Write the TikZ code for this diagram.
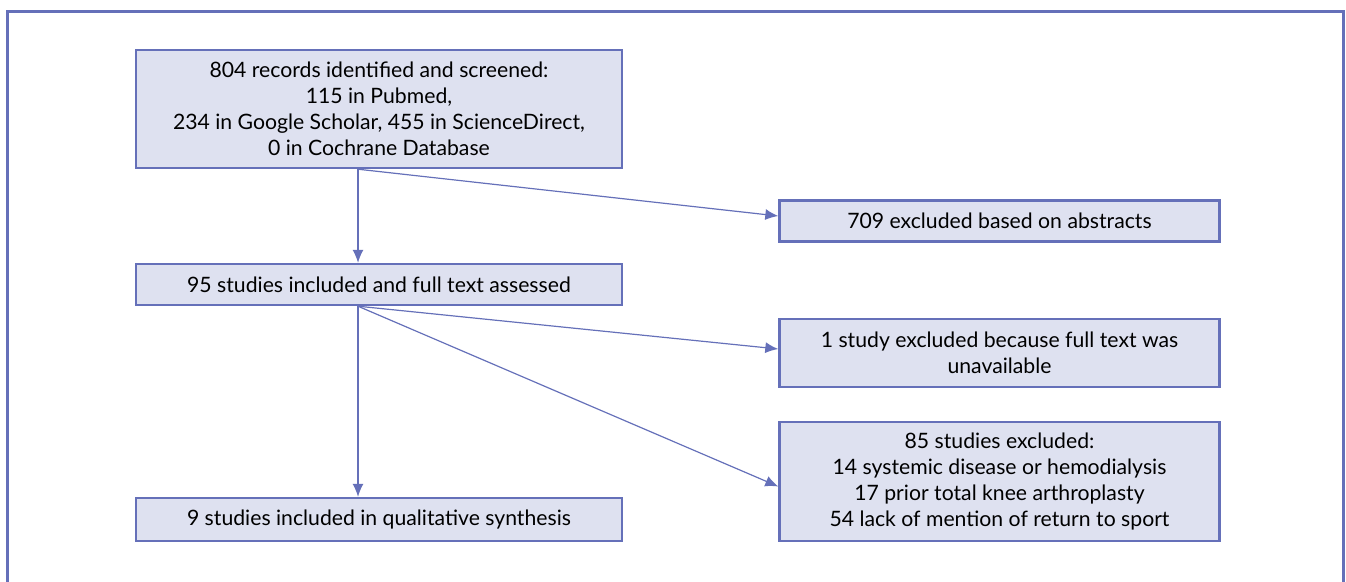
\documentclass[tikz,border=0pt]{standalone}
\usepackage{fontspec}
\setmainfont{Lato}
\usetikzlibrary{arrows.meta}
\definecolor{frameblue}{HTML}{6570B9}
\definecolor{boxfill}{HTML}{DEE1F0}
\tikzset{
  box/.style={draw=frameblue, line width=2.4pt, fill=boxfill, rectangle, inner sep=0pt, align=center, font=\fontsize{21.2}{26}\selectfont, text=black},
  conn/.style={draw=frameblue, line width=1.2pt, -{Latex[length=13pt,width=11pt]}}
}
\begin{document}
\begin{tikzpicture}[x=1pt,y=-1pt]
\useasboundingbox (0,0) rectangle (1346,581);
\draw[frameblue, line width=3pt] (7,585) -- (7,11) -- (1343,11) -- (1343,585);
\node[box, minimum width=486pt, minimum height=118pt] (b1) at (379,109) {804 records identified and screened:\\115 in Pubmed,\\234 in Google Scholar, 455 in ScienceDirect,\\0 in Cochrane Database};
\node[box, minimum width=486pt, minimum height=41pt] (b2) at (379,284.5) {95 studies included and full text assessed};
\node[box, minimum width=486pt, minimum height=43pt] (b9) at (379,519.5) {9 studies included in qualitative synthesis};
\node[box, minimum width=440pt, minimum height=41pt] (e1) at (999.5,221) {709 excluded based on abstracts};
\node[box, minimum width=440pt, minimum height=68pt] (e2) at (999.5,353) {1 study excluded because full text was\\unavailable};
\node[box, minimum width=440pt, minimum height=119pt] (e3) at (999.5,481.5) {85 studies excluded:\\14 systemic disease or hemodialysis\\17 prior total knee arthroplasty\\54 lack of mention of return to sport};
\coordinate (o1) at ([xshift=-21pt]b1.south);
\coordinate (o2) at ([xshift=-21pt]b2.south);
\draw[conn] (o1) -- (b2.north -| o1);
\draw[conn] (o1) -- ([yshift=5pt]e1.west);
\draw[conn] (o2) -- (b9.north -| o2);
\draw[conn] (o2) -- ([yshift=4pt]e2.west);
\draw[conn] (o2) -- ([yshift=-5pt]e3.west);
\end{tikzpicture}
\end{document}
